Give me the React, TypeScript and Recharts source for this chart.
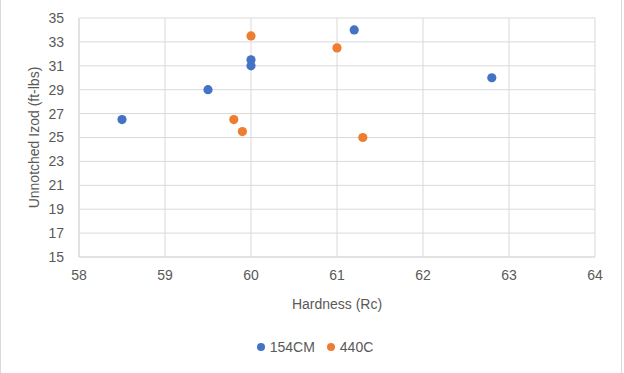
import React from "react";
import {
  ScatterChart,
  Scatter,
  XAxis,
  YAxis,
  CartesianGrid,
  Legend,
} from "recharts";

const seriesNames = ["154CM", "440C"];
const seriesColors = ["#4472C4", "#ED7D31"];

const hardness154CM = [58.5, 59.5, 60, 60, 61.2, 62.8];
const izod154CM = [26.5, 29, 31.5, 31, 34, 30];

const hardness440C = [60, 59.8, 59.9, 61, 61.3];
const izod440C = [33.5, 26.5, 25.5, 32.5, 25];

const xTicks = [58, 59, 60, 61, 62, 63, 64];
const yTicks = [15, 17, 19, 21, 23, 25, 27, 29, 31, 33, 35];

const data154CM = hardness154CM.map((x, i) => ({ x, y: izod154CM[i] }));
const data440C = hardness440C.map((x, i) => ({ x, y: izod440C[i] }));

const FONT = "'Liberation Sans', Arial, sans-serif";
const TEXT = "#595959";
const GRID = "#d9d9d9";

const makeDot = (color: string) => (props: any) => (
  <circle cx={props.cx} cy={props.cy} r={4.6} fill={color} />
);

const LegendContent = () => (
  <div
    style={{
      display: "flex",
      justifyContent: "center",
      alignItems: "center",
      fontFamily: FONT,
      fontSize: 14,
      color: TEXT,
      paddingLeft: 6,
    }}
  >
    {seriesNames.map((name, i) => (
      <div
        key={name}
        style={{ display: "flex", alignItems: "center", marginRight: i === 0 ? 12 : 0 }}
      >
        <span
          style={{
            display: "inline-block",
            width: 8,
            height: 8,
            borderRadius: 4,
            background: seriesColors[i],
            marginRight: 5,
          }}
        />
        <span>{name}</span>
      </div>
    ))}
  </div>
);

export default function App() {
  return (
    <div
      style={{
        position: "absolute",
        left: 0,
        top: 0,
        width: 624,
        height: 373,
        background: "#fff",
      }}
    >
      <div
        style={{
          position: "absolute",
          left: 0,
          top: 0,
          width: 1,
          height: 373,
          background: GRID,
        }}
      />
      <div
        style={{
          position: "absolute",
          left: 621,
          top: 0,
          width: 1,
          height: 373,
          background: GRID,
        }}
      />
      <div style={{ position: "absolute", left: 0, top: 0 }}>
        <ScatterChart
          width={624}
          height={373}
          margin={{ top: 18, right: 29, bottom: 56, left: 0 }}
        >
          <CartesianGrid stroke={GRID} strokeWidth={1} />
          <XAxis
            type="number"
            dataKey="x"
            domain={[58, 64]}
            ticks={xTicks}
            interval={0}
            allowDataOverflow
            tickLine={false}
            tickSize={6}
            tickMargin={7}
            axisLine={{ stroke: GRID }}
            height={60}
            tick={{ fill: TEXT, fontSize: 14, fontFamily: FONT }}
            label={{
              value: "Hardness (Rc)",
              position: "insideBottom",
              offset: 8,
              fill: TEXT,
              fontSize: 14,
              fontFamily: FONT,
            }}
          />
          <YAxis
            type="number"
            dataKey="y"
            domain={[15, 35]}
            ticks={yTicks}
            interval={0}
            allowDataOverflow
            tickLine={false}
            tickSize={6}
            tickMargin={9}
            axisLine={{ stroke: GRID }}
            width={79}
            tick={{ fill: TEXT, fontSize: 14, fontFamily: FONT }}
            label={{
              value: "Unnotched Izod (ft-lbs)",
              angle: -90,
              position: "insideLeft",
              offset: 34,
              style: { textAnchor: "middle" },
              fill: TEXT,
              fontSize: 14,
              fontFamily: FONT,
            }}
          />
          <Legend
            verticalAlign="middle"
            align="center"
            layout="horizontal"
            content={<LegendContent />}
            wrapperStyle={{ top: 339, left: 0, width: 624 }}
          />
          <Scatter
            name={seriesNames[0]}
            data={data154CM}
            fill={seriesColors[0]}
            shape={makeDot(seriesColors[0])}
            isAnimationActive={false}
          />
          <Scatter
            name={seriesNames[1]}
            data={data440C}
            fill={seriesColors[1]}
            shape={makeDot(seriesColors[1])}
            isAnimationActive={false}
          />
        </ScatterChart>
      </div>
    </div>
  );
}
